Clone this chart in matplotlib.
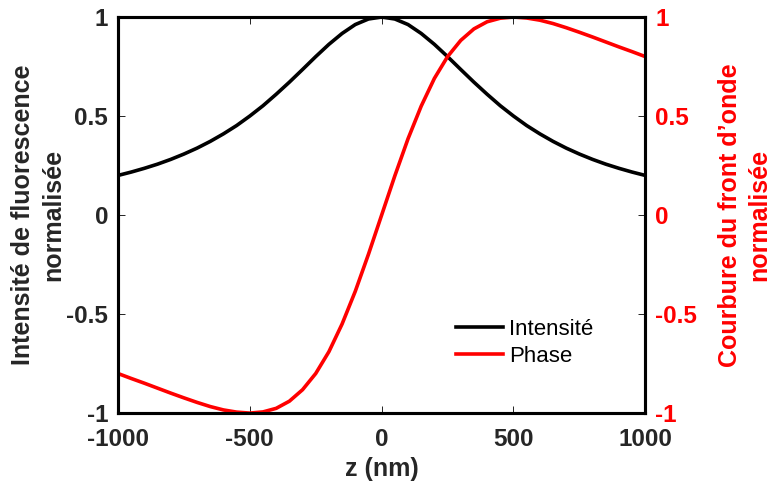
import matplotlib.pyplot as plt

plt.rcParams['font.family'] = ['Liberation Sans', 'DejaVu Sans']
plt.rcParams['axes.unicode_minus'] = False

# values
z = [-1000, -950, -900, -850, -800, -750, -700, -650, -600, -550, -500,
     -450, -400, -350, -300, -250, -200, -150, -100, -50, 0,
     50, 100, 150, 200, 250, 300, 350, 400, 450, 500,
     550, 600, 650, 700, 750, 800, 850, 900, 950, 1000]
intensite = [0.200, 0.217, 0.236, 0.257, 0.281, 0.308, 0.338, 0.372, 0.410, 0.452, 0.500,
             0.552, 0.610, 0.671, 0.735, 0.800, 0.862, 0.917, 0.962, 0.990, 1.000,
             0.990, 0.962, 0.917, 0.862, 0.800, 0.735, 0.671, 0.610, 0.552, 0.500,
             0.452, 0.410, 0.372, 0.338, 0.308, 0.281, 0.257, 0.236, 0.217, 0.200]
phase = [-0.800, -0.825, -0.849, -0.874, -0.899, -0.923, -0.946, -0.967, -0.984, -0.995, -1.000,
         -0.994, -0.976, -0.940, -0.882, -0.800, -0.690, -0.550, -0.385, -0.198, 0.000,
         0.198, 0.385, 0.550, 0.690, 0.800, 0.882, 0.940, 0.976, 0.994, 1.000,
         0.995, 0.984, 0.967, 0.946, 0.923, 0.899, 0.874, 0.849, 0.825, 0.800]

xticks = [-1000, -500, 0, 500, 1000]
yticks = [-1, -0.5, 0, 0.5, 1]
ylabels = ['-1', '-0.5', '0', '0.5', '1']

fig = plt.figure(figsize=(7.71, 4.86), dpi=100)
ax = fig.add_axes([0.153, 0.150, 0.684, 0.815])
ax2 = ax.twinx()

l1, = ax.plot(z, intensite, color='black', lw=2.6)
l2, = ax2.plot(z, phase, color='red', lw=2.6)

fs = 17.5
gray = '#262626'
ax.set_xlim(-1000, 1000)
ax.set_ylim(-1, 1)
ax2.set_ylim(-1, 1)
ax.set_xticks(xticks)
ax.set_xticklabels([str(t) for t in xticks], fontsize=fs, fontweight='bold', color=gray)
ax.set_yticks(yticks)
ax.set_yticklabels(ylabels, fontsize=fs, fontweight='bold', color=gray)
ax2.set_yticks(yticks)
ax2.set_yticklabels(ylabels, fontsize=fs, fontweight='bold', color='red')

ax.tick_params(axis='x', direction='in', length=5, width=0.6, top=True, pad=11)
ax.tick_params(axis='y', direction='in', length=5, width=0.6, pad=7)
ax2.tick_params(axis='y', direction='in', length=5, width=0.6, pad=7)

for a in (ax, ax2):
    for s in a.spines.values():
        s.set_linewidth(2.2)
        s.set_color('black')

ax.set_xlabel('z (nm)', fontsize=18, fontweight='bold', color=gray, labelpad=4)
ax.set_ylabel('Intensité de fluorescence\nnormalisée', fontsize=18,
              fontweight='bold', color=gray, labelpad=1, linespacing=1.3)
ax2.set_ylabel('Courbure du front d\u2019onde\nnormalisée', fontsize=18,
               fontweight='bold', color='red', labelpad=15, linespacing=1.3)

ax2.legend([l1, l2], ['Intensité', 'Phase'], loc='lower left',
           bbox_to_anchor=(0.625, 0.095), frameon=False, fontsize=16,
           handlelength=2.1, handletextpad=0.25, labelspacing=0.25,
           borderaxespad=0)

fig.savefig('out.png', dpi=100)
